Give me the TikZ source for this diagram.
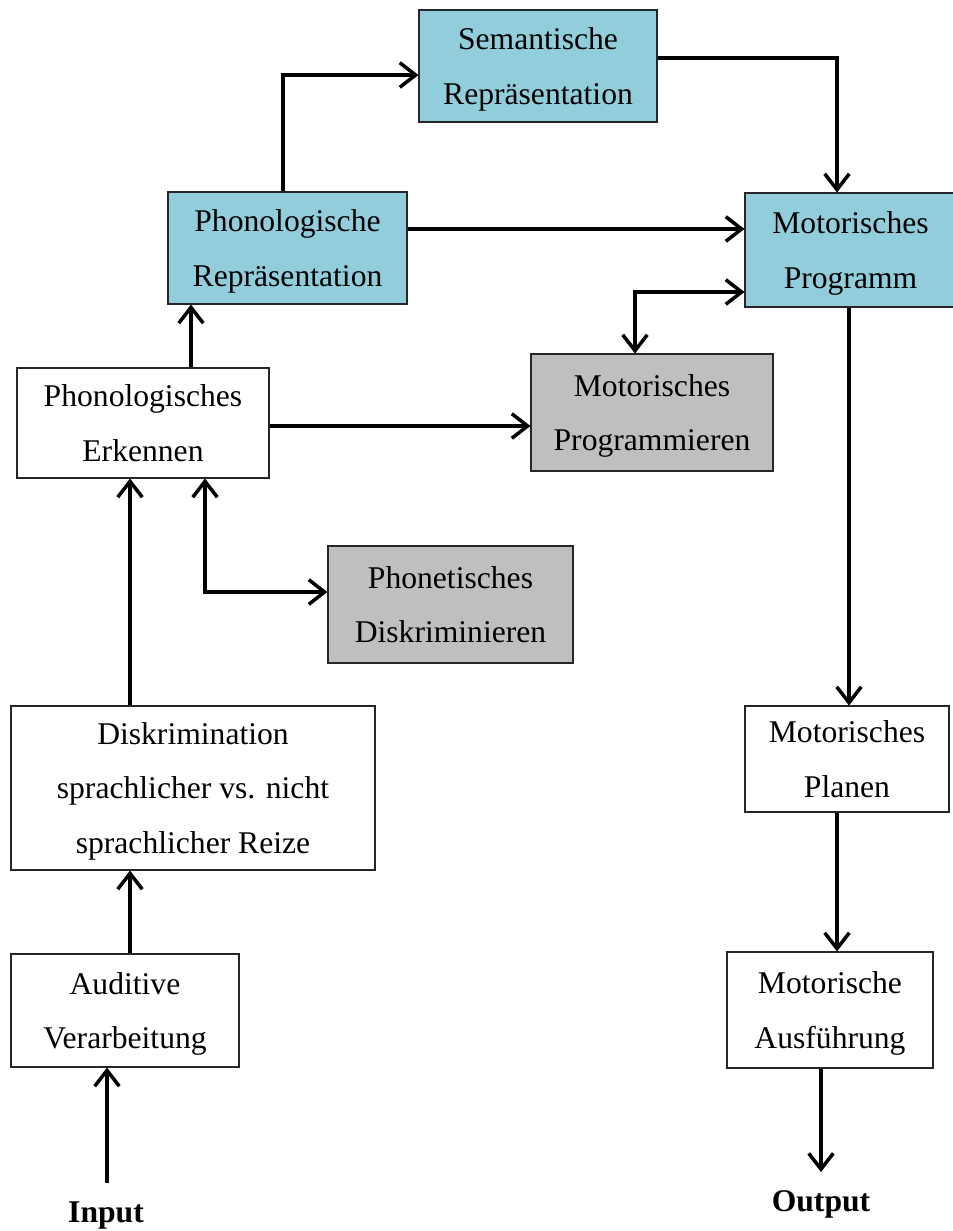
\documentclass[tikz,border=0pt]{standalone}
\usepackage{fontspec}
\setmainfont{Liberation Serif}
\usetikzlibrary{arrows.meta,calc}

\definecolor{boxblue}{HTML}{92CDDC}
\definecolor{boxgray}{HTML}{BFBFBF}

\begin{document}
\begin{tikzpicture}[x=0.02cm,y=-0.02cm,
  box/.style={draw=black!85,line width=0.6pt,inner sep=0pt,align=center,
    font=\fontsize{18}{31}\selectfont,text depth=0pt},
  bluebox/.style={box,fill=boxblue},
  graybox/.style={box,fill=boxgray},
  arr/.style={line width=2pt,-{Straight Barb[length=9pt,width=14pt]}},
  arrtwo/.style={line width=2pt,{Straight Barb[length=9pt,width=14pt]}-{Straight Barb[length=9pt,width=14pt]}},
  lbl/.style={font=\fontsize{18}{22}\selectfont\bfseries,anchor=base}]
\useasboundingbox (0,0) rectangle (953,1231);

% boxes
\node[bluebox,minimum width=238*0.02cm,minimum height=112*0.02cm] (sem) at (538,66) {Semantische\\Repräsentation};
\node[bluebox,minimum width=239*0.02cm,minimum height=112*0.02cm] (phr) at (287.5,248) {Phonologische\\Repräsentation};
\node[bluebox,minimum width=211*0.02cm,minimum height=114*0.02cm] (mp) at (850.5,250) {Motorisches\\Programm};
\node[box,minimum width=252*0.02cm,minimum height=110*0.02cm] (pe) at (143,423) {Phonologisches\\Erkennen};
\node[graybox,minimum width=242*0.02cm,minimum height=117*0.02cm] (mpr) at (652,412.5) {Motorisches\\Programmieren};
\node[graybox,minimum width=245*0.02cm,minimum height=117*0.02cm] (pd) at (450.5,604.5) {Phonetisches\\Diskriminieren};
\node[box,minimum width=364*0.02cm,minimum height=164*0.02cm] (dis) at (193,788) {Diskrimination\\sprachlicher vs. nicht\\sprachlicher Reize};
\node[box,minimum width=228*0.02cm,minimum height=113*0.02cm] (av) at (125,1010.5) {Auditive\\Verarbeitung};
\node[box,minimum width=204*0.02cm,minimum height=106*0.02cm] (mpl) at (847,759) {Motorisches\\Planen};
\node[box,minimum width=206*0.02cm,minimum height=116*0.02cm] (ma) at (830,1010) {Motorische\\Ausführung};

\node[lbl] (input) at (106,1222) {Input};
\node[lbl] (output) at (821,1211) {Output};

% free ends and knees
\coordinate (in) at (107,1183);
\coordinate (out) at (821,1172);
\coordinate (xa) at (130,0);
\coordinate (xb) at (191,0);
\coordinate (yc) at (0,229);
\coordinate (yd) at (0,426);
\coordinate (xd) at (849,0);
\coordinate (xe) at (837,0);
\coordinate (knA) at (205,592);
\coordinate (knB) at (283,75);
\coordinate (knC) at (837,58);
\coordinate (knD) at (635,292);

% left column
\draw[arr] (in) -- (in |- av.south);
\draw[arr] (xa |- av.north) -- (xa |- dis.south);
\draw[arr] (xa |- dis.north) -- (xa |- pe.south);
\draw[arrtwo] (knA |- pe.south) -- (knA) -- (pd.west |- knA);
\draw[arr] (pe.east |- yd) -- (mpr.west |- yd);
\draw[arr] (xb |- pe.north) -- (xb |- phr.south);

% top
\draw[arr] (knB |- phr.north) -- (knB) -- (knB -| sem.west);
\draw[arr] (phr.east |- yc) -- (mp.west |- yc);
\draw[arr] (sem.east |- knC) -- (knC) -- (knC |- mp.north);
\draw[arrtwo] (knD |- mpr.north) -- (knD) -- (knD -| mp.west);

% right column
\draw[arr] (xd |- mp.south) -- (xd |- mpl.north);
\draw[arr] (xe |- mpl.south) -- (xe |- ma.north);
\draw[arr] (out |- ma.south) -- (out);

\end{tikzpicture}
\end{document}
